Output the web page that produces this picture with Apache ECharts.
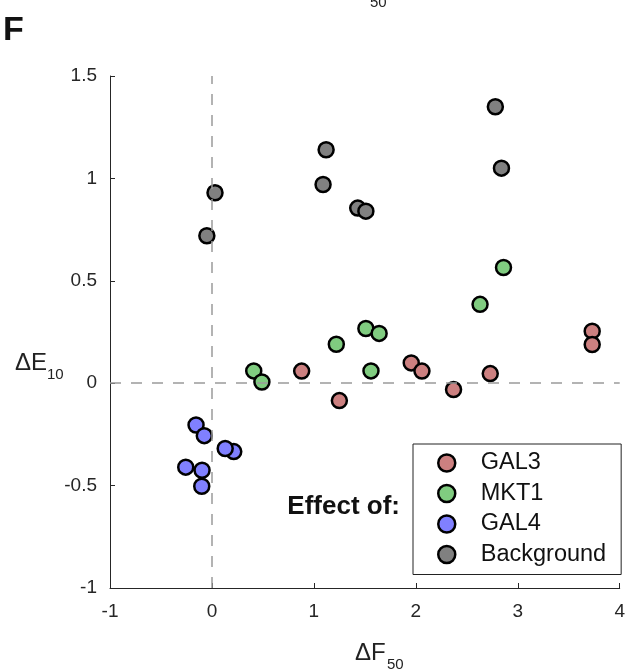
<!DOCTYPE html>
<html>
<head>
<meta charset="utf-8">
<script src="https://cdn.jsdelivr.net/npm/echarts@6/dist/echarts.min.js"></script>
<style>html,body{margin:0;padding:0;background:#fff}#c{width:628px;height:672px}</style>
</head>
<body>
<div id="c"></div>
<script>
const seriesNames = ['GAL3', 'MKT1', 'GAL4', 'Background'];
const gal3X = [0.88, 1.25, 1.955, 2.06, 2.37, 2.73, 3.73, 3.73];
const gal3Y = [0.059, -0.085, 0.099, 0.059, -0.031, 0.047, 0.254, 0.189];
const mkt1X = [0.41, 0.49, 1.22, 1.51, 1.64, 1.56, 2.63, 2.86];
const mkt1Y = [0.06, 0.006, 0.19, 0.267, 0.243, 0.06, 0.385, 0.565];
const gal4X = [-0.156, -0.075, 0.214, 0.13, -0.257, -0.097, -0.10];
const gal4Y = [-0.204, -0.256, -0.334, -0.319, -0.41, -0.425, -0.503];
const bgX = [-0.05, 0.03, 1.09, 1.12, 1.43, 1.51, 2.78, 2.84];
const bgY = [0.72, 0.93, 0.97, 1.14, 0.855, 0.84, 1.35, 1.05];
const colors = ['rgb(204,128,128)', 'rgb(128,204,128)', 'rgb(128,128,255)', 'rgb(128,128,128)'];

const xs = [gal3X, mkt1X, gal4X, bgX];
const ys = [gal3Y, mkt1Y, gal4Y, bgY];
const FONT = '"Liberation Sans", Arial, Helvetica, sans-serif';
const AX = '#262626';

const chart = echarts.init(document.getElementById('c'), null, {renderer: 'canvas'});
const series = seriesNames.map((n, i) => ({
  name: n,
  type: 'scatter',
  symbol: 'circle',
  symbolSize: 15,
  z: 3,
  itemStyle: {color: colors[i], borderColor: '#000', borderWidth: 2.5, opacity: 1},
  emphasis: {disabled: true},
  data: xs[i].map((x, k) => [x, ys[i][k]])
}));
series.push({
  type: 'line', data: [], silent: true, z: 1,
  markLine: {
    silent: true, symbol: 'none', animation: false,
    label: {show: false},
    lineStyle: {color: '#9a9a9a', type: [11, 10], width: 1.5},
    data: [{xAxis: 0}, {yAxis: 0}]
  }
});

chart.setOption({
  animation: false,
  backgroundColor: '#fff',
  grid: {left: 110, right: 5, top: 76, bottom: 84, containLabel: false},
  xAxis: {
    type: 'value', min: -1, max: 4, interval: 1,
    axisLine: {show: true, onZero: false, lineStyle: {color: AX, width: 1}},
    axisTick: {show: true, inside: true, length: 5, lineStyle: {color: AX}},
    splitLine: {show: false},
    axisLabel: {fontSize: 19, color: AX, fontFamily: FONT, margin: 14}
  },
  yAxis: {
    type: 'value', min: -1, max: 1.5, interval: 0.5,
    axisLine: {show: true, onZero: false, lineStyle: {color: AX, width: 1}},
    axisTick: {show: true, inside: true, length: 5, lineStyle: {color: AX}},
    splitLine: {show: false},
    axisLabel: {fontSize: 19, color: AX, fontFamily: FONT, margin: 13}
  },
  legend: {
    data: seriesNames,
    orient: 'vertical',
    left: 413, top: 444,
    padding: [7, 15, 8, 24],
    itemGap: 6.5,
    itemWidth: 58, itemHeight: 17,
    icon: 'circle',
    borderColor: '#222', borderWidth: 1,
    selectedMode: false,
    itemStyle: {borderColor: '#000', borderWidth: 2.5},
    textStyle: {fontSize: 23.5, lineHeight: 22, color: '#111', fontFamily: FONT}
  },
  graphic: [
    {type: 'text', x: 3, y: 31, style: {text: 'F', font: 'bold 34px ' + FONT, fill: '#111', verticalAlign: 'middle'}},
    {type: 'text', x: 370, y: 3, style: {text: '50', font: '15px ' + FONT, fill: '#222', verticalAlign: 'middle'}},
    {type: 'text', x: 400, y: 507, style: {text: 'Effect of:', font: 'bold 26px ' + FONT, fill: '#111', align: 'right', verticalAlign: 'middle'}},
    {type: 'text', x: 15, y: 363.5, style: {text: 'ΔE', font: '24px ' + FONT, fill: '#222', verticalAlign: 'middle'}},
    {type: 'text', x: 47, y: 375, style: {text: '10', font: '15px ' + FONT, fill: '#222', verticalAlign: 'middle'}},
    {type: 'text', x: 355, y: 653.5, style: {text: 'ΔF', font: '24px ' + FONT, fill: '#222', verticalAlign: 'middle'}},
    {type: 'text', x: 387, y: 664.5, style: {text: '50', font: '15px ' + FONT, fill: '#222', verticalAlign: 'middle'}}
  ],
  series: series
});
</script>
</body>
</html>
